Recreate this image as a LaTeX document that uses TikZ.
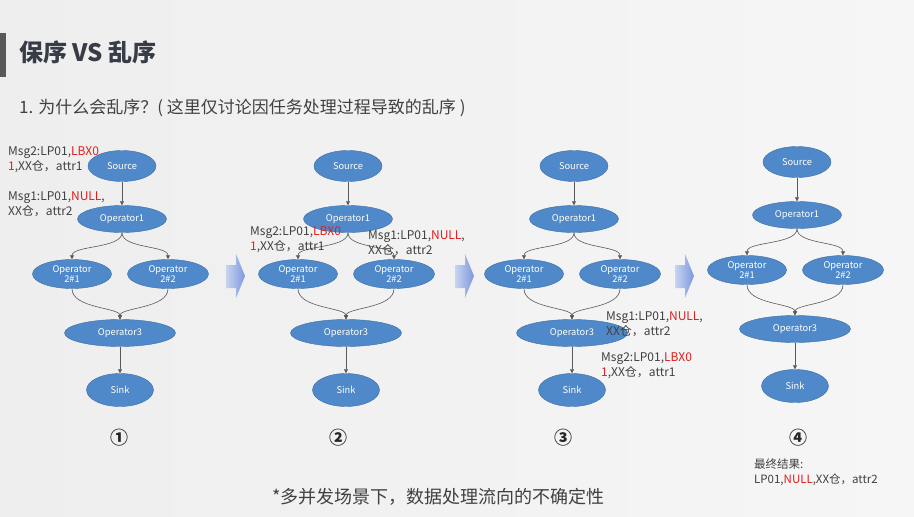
\documentclass[tikz,border=0pt]{standalone}
\usepackage{fontspec}
\setmainfont{Noto Sans CJK SC}
\usetikzlibrary{arrows.meta, shapes.geometric}
\definecolor{opblue}{RGB}{79,137,201}
\definecolor{opedge}{RGB}{62,110,165}
\definecolor{txtgray}{RGB}{64,64,64}
\definecolor{msgred}{RGB}{225,30,30}
\definecolor{titlegray}{RGB}{55,60,70}
\definecolor{bglight}{RGB}{238,238,238}
\definecolor{bgright}{RGB}{246,246,246}
\definecolor{arrlight}{RGB}{200,212,240}
\definecolor{arrdark}{RGB}{125,152,222}

\newcommand{\msgtwo}{Msg2:LP01,\textcolor{msgred}{LBX0}\\\textcolor{msgred}{1},XX仓，attr1}
\newcommand{\msgone}{Msg1:LP01,\textcolor{msgred}{NULL},\\XX仓，attr2}

\begin{document}
\begin{tikzpicture}[x=1pt, y=-1pt,
    op/.style={ellipse, draw=opedge, fill=opblue, text=white, inner sep=0pt, align=center, font=\fontsize{9.3}{10.5}\selectfont},
    flow/.style={-{Triangle[length=4pt, width=4pt]}, draw=black!65, line width=0.6pt},
    msg/.style={anchor=west, align=left, inner sep=0pt, text=txtgray, font=\fontsize{12}{15}\selectfont},
    stepnum/.style={inner sep=0pt, text=black!85, font=\bfseries\fontsize{18}{20}\selectfont}
  ]
    \useasboundingbox (0,0) rectangle (914,517);
    \shade[left color=bglight, right color=bgright] (0,0) rectangle (914,517);

    % title
    \fill[black!65] (0,33) rectangle (6,77);
    \node[anchor=west, inner sep=0pt, text=titlegray, font=\bfseries\fontsize{24}{28}\selectfont] (title) at (19,52) {保序 VS 乱序};
    \node[anchor=west, inner sep=0pt, text=txtgray, font=\fontsize{17}{20}\selectfont] (sub) at (19,108) {1. 为什么会乱序？( 这里仅讨论因任务处理过程导致的乱序 )};

    % four snapshots of the same flow
    \foreach \p/\dx/\dy in {1/0/0, 2/226/0, 3/452/0, 4/675/-4} {
      \begin{scope}[shift={(\dx,\dy)}]
        \node[op, minimum width=68, minimum height=31] (src\p) at (122,166) {Source};
        \node[op, minimum width=89, minimum height=27] (opone\p) at (122,219) {Operator1};
        \node[op, minimum width=79, minimum height=29] (optwoa\p) at (72,274) {Operator\\2\#1};
        \node[op, minimum width=81, minimum height=29] (optwob\p) at (168,274) {Operator\\2\#2};
        \node[op, minimum width=111, minimum height=27] (opthree\p) at (120,333) {Operator3};
        \node[op, minimum width=67, minimum height=33] (sink\p) at (120,390) {Sink};
        \draw[flow] (src\p) -- (opone\p);
        \draw[flow] (opone\p.south) .. controls +(0,16) and +(0,-14) .. (optwoa\p.north);
        \draw[flow] (opone\p.south) .. controls +(0,16) and +(0,-14) .. (optwob\p.north);
        \draw[flow] (optwoa\p.south) .. controls +(0,20) and +(0,-12) .. (opthree\p.north);
        \draw[flow] (optwob\p.south) .. controls +(0,20) and +(0,-12) .. (opthree\p.north);
        \draw[flow] (opthree\p) -- (sink\p);
      \end{scope}
    }

    % step arrows
    \foreach \ax in {226, 455, 675} {
      \shade[left color=arrlight, right color=arrdark] (\ax,265) -- (\ax+10,265) -- (\ax+10,254) -- (\ax+19,276) -- (\ax+10,298) -- (\ax+10,288) -- (\ax,288) -- cycle;
    }

    % messages
    \node[msg] (msgtwoa) at (8,160) {\msgtwo};
    \node[msg] (msgonea) at (8,204) {\msgone};
    \node[msg] (msgtwob) at (250,240) {\msgtwo};
    \node[msg] (msgoneb) at (368,243) {\msgone};
    \node[msg] (msgonec) at (606,324) {\msgone};
    \node[msg] (msgtwoc) at (601,366) {\msgtwo};

    % step numbers
    \node[stepnum] (numa) at (119,438) {①};
    \node[stepnum] (numb) at (338,438) {②};
    \node[stepnum] (numc) at (563,438) {③};
    \node[stepnum] (numd) at (798,438) {④};

    \node[anchor=north west, align=left, inner sep=0pt, text=txtgray, font=\fontsize{11.5}{15}\selectfont] (result) at (754,459) {最终结果:\\LP01,\textcolor{msgred}{NULL},XX仓，attr2};
    \node[anchor=west, inner sep=0pt, text=txtgray, font=\fontsize{18}{22}\selectfont] (note) at (272,497) {*多并发场景下，数据处理流向的不确定性};
\end{tikzpicture}
\end{document}
